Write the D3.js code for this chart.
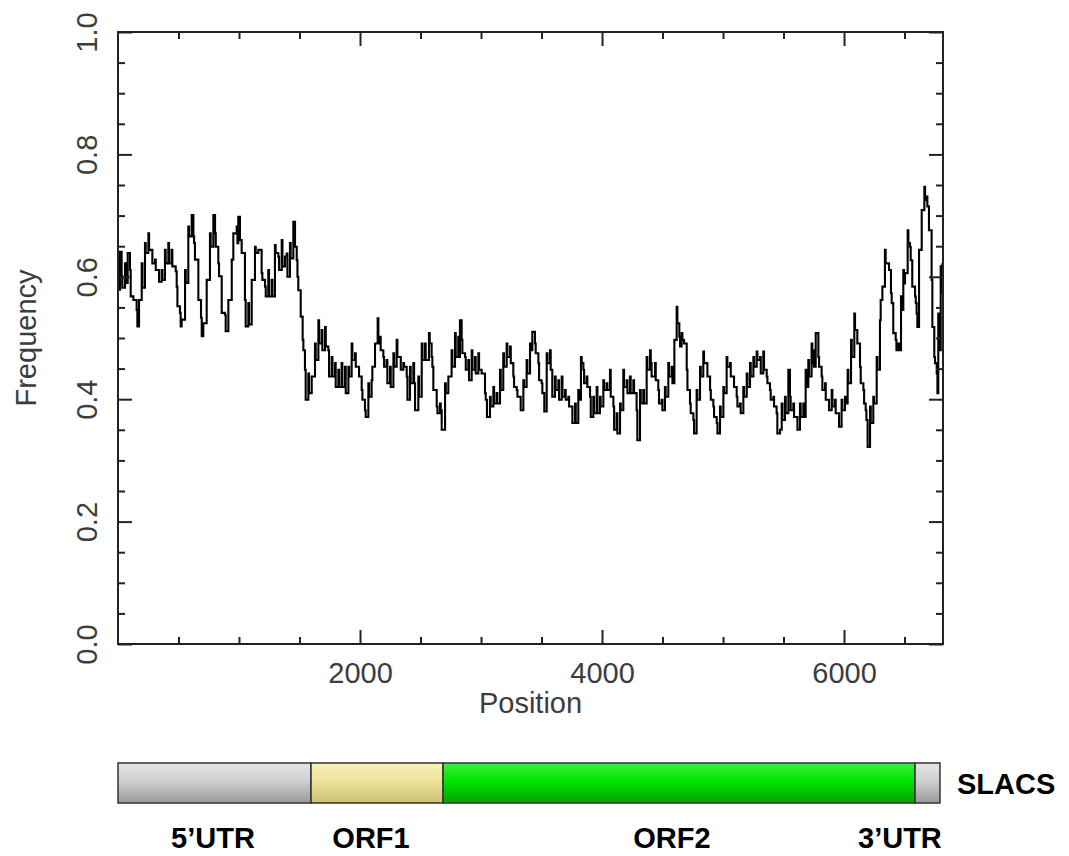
<!DOCTYPE html>
<html>
<head>
<meta charset="utf-8">
<script src="https://cdn.jsdelivr.net/npm/d3@7"></script>
<style>
  html, body { margin: 0; padding: 0; background: #fff; }
  svg { display: block; }
</style>
</head>
<body>
<svg id="chart" width="1069" height="856"></svg>
<script>
// ---------------- data ----------------
const positions = [
  1,8,17,30,36,58,64,80,99,105,127,154,160,174,196,202,223,229,251,257,
  278,284,306,312,333,339,361,367,388,394,416,422,443,449,471,477,485,491,512,518,
  526,554,560,581,587,609,623,629,636,664,686,692,705,733,760,766,788,802,808,829,
  835,857,884,890,912,940,953,981,987,994,1008,1022,1049,1055,1077,1083,1105,1132,1138,1160,
  1187,1193,1215,1221,1242,1248,1270,1276,1297,1303,1325,1331,1353,1359,1380,
  1394,1400,1421,1427,1449,1463,1477,1483,1490,1510,1526,1532,1545,1551,1573,1579,1601,1628,1634,1656,
  1662,1683,1689,1711,1717,1738,1744,1766,1772,1793,1799,1821,1827,1848,1854,1876,1882,1904,1910,1931,
  1937,1959,1965,1986,1992,2014,2020,2041,2047,2069,2075,2096,2102,2124,2146,2152,2165,2171,2193,2199,
  2220,2226,2248,2254,2276,2282,2303,2309,2331,2337,2358,2364,2386,2392,2413,2419,2441,2447,2455,2482,
  2488,2510,2516,2537,2543,2570,2576,2592,2598,2606,2634,2640,2661,2667,2675,2703,2709,2730,
  2757,2763,2785,2791,2812,2818,2826,2840,2846,2868,2874,2895,2901,2923,2929,2950,2956,2978,2984,3005,
  3033,3039,3049,3074,3080,3102,3108,3129,3135,3157,3163,3184,3190,3212,3218,3240,3246,3267,3273,3295,
  3301,3322,3328,3350,3356,3377,3383,3405,3411,3424,3446,3452,3474,3480,3501,3507,3523,3543,3549,3570,
  3576,3589,3611,3617,3639,3645,3667,3673,3694,3700,3722,3728,3749,3755,3777,3783,3804,3810,3826,3832,
  3846,3852,3873,3879,3901,3907,3928,3934,3956,3962,3983,3989,4011,4017,4038,4044,4066,4072,4094,4100,
  4121,4127,4149,4155,4176,4182,4204,4210,4231,4237,4259,4265,4286,4292,4314,4320,4341,4347,4369,4375,
  4397,4403,4410,4438,4444,4465,4471,4493,4499,4520,4526,4548,4554,4576,4582,4598,4617,4623,4639,4645,
  4658,4664,4678,4700,4706,4727,4733,4755,4761,4782,4788,4810,4816,4837,4843,4865,4871,4893,4899,4920,
  4926,4948,4954,4975,4981,5003,5009,5030,5036,5058,5064,5085,5091,5113,5119,5140,5146,5168,5174,5196,
  5202,5223,5229,5251,5257,5278,5284,5306,5312,5333,5339,5361,5367,5388,5394,5416,5422,5443,5449,5471,
  5485,5491,5512,5518,5540,5553,5559,5581,5587,5609,5615,5636,5642,5664,5670,5683,5689,5705,5711,5732,
  5738,5746,5752,5766,5788,5794,5815,5821,5843,5849,5870,5876,5898,5904,5925,5931,5953,5959,5980,5986,
  6008,6014,6030,6036,6058,6064,6085,6091,6104,6110,6132,6138,6160,6166,6179,6185,6195,6215,6221,6242,
  6248,6270,6276,6297,6303,6317,6338,6344,6366,6372,6388,6394,6407,6427,6433,6449,6455,6471,6477,6490,
  6496,6504,6526,6532,6545,6551,6564,6587,6593,6600,6606,6620,6642,6664,6670,6683,6689,6702,6724,6730,
  6746,6752,6766,6772,6779,6785,6799,6805,6812
];
const frequency = [
  .640,.579,.641,.601,.582,.622,.590,.639,.611,.568,.562,.546,.519,.562,.622,.582,.655,.639,.671,.644,
  .644,.622,.628,.611,.611,.592,.611,.595,.644,.622,.655,.622,.644,.617,.617,.609,.584,.552,.541,.519,
  .530,.611,.590,.682,.666,.701,.666,.655,.628,.562,.533,.503,.524,.595,.671,.649,.701,.671,.649,.622,
  .601,.541,.538,.511,.562,.628,.671,.682,.655,.698,.660,.639,.562,.519,.557,.522,.595,.649,.639,.644,
  .606,.595,.584,.568,.611,.568,.595,.568,.652,.639,.633,.611,.660,.617,.633,
  .638,.600,.655,.630,.690,.649,.627,.600,.578,.535,.497,.480,.448,.399,.442,.410,.437,.491,.464,.529,
  .491,.513,.480,.518,.486,.480,.437,.469,.437,.459,.420,.448,.420,.459,.420,.453,.410,.453,.437,.491,
  .464,.475,.453,.453,.437,.415,.399,.382,.371,.426,.404,.431,.453,.491,.532,.491,.502,.480,.469,.453,
  .464,.426,.453,.420,.475,.453,.497,.469,.469,.448,.459,.453,.437,.399,.453,.426,.459,.426,.382,.437,
  .404,.491,.464,.491,.464,.508,.491,.469,.453,.415,.388,.377,.393,.382,.350,.426,.410,.437,
  .480,.453,.508,.469,.502,.469,.529,.497,.475,.469,.448,.464,.431,.480,.448,.469,.442,.475,.448,.442,
  .410,.399,.371,.404,.388,.420,.393,.410,.393,.448,.415,.475,.453,.491,.469,.486,.459,.437,.420,.415,
  .404,.404,.382,.431,.420,.464,.442,.491,.480,.510,.491,.475,.459,.431,.426,.410,.380,.475,.459,.480,
  .448,.404,.437,.415,.431,.399,.437,.404,.415,.399,.404,.388,.388,.361,.393,.361,.415,.399,.469,.459,
  .448,.426,.437,.420,.404,.371,.404,.377,.420,.377,.404,.388,.431,.415,.426,.415,.448,.404,.388,.350,
  .377,.344,.393,.382,.448,.420,.431,.410,.437,.410,.431,.410,.382,.333,.415,.393,.415,.393,.469,.448,
  .480,.459,.437,.459,.431,.415,.393,.399,.382,.420,.404,.459,.437,.453,.426,.497,.551,.524,.502,.486,
  .508,.497,.491,.448,.415,.393,.377,.366,.344,.415,.399,.453,.437,.478,.459,.459,.437,.415,.399,.388,
  .371,.361,.344,.388,.371,.420,.410,.469,.453,.459,.437,.437,.420,.404,.388,.393,.377,.420,.404,.442,
  .420,.459,.437,.469,.453,.478,.464,.469,.442,.478,.448,.437,.426,.415,.399,.404,.388,.377,.344,.350,
  .393,.366,.404,.377,.448,.404,.382,.393,.371,.371,.350,.393,.371,.393,.371,.448,.420,.464,.437,.491,
  .459,.480,.453,.508,.469,.453,.437,.415,.426,.399,.399,.382,.415,.388,.399,.377,.377,.355,.399,.382,
  .404,.393,.448,.426,.497,.469,.540,.513,.513,.491,.453,.426,.415,.393,.382,.366,.322,.388,.361,.404,
  .393,.469,.448,.529,.562,.584,.644,.622,.622,.611,.573,.557,.508,.497,.480,.491,.480,.568,.546,.611,
  .589,.606,.676,.655,.649,.627,.584,.568,.557,.540,.518,.644,.709,.747,.725,.731,.715,.676,.595,.518,
  .469,.459,.442,.410,.540,.480,.617,.573,.622
];

const xDomain = [0, 6818];
const yDomain = [0, 1];
const xMajorTicks = [2000, 4000, 6000];
const xMinorTicks = [500, 1000, 1500, 2500, 3000, 3500, 4500, 5000, 5500, 6500];
const yMajorTicks = [0, 0.2, 0.4, 0.6, 0.8, 1.0];
const yMinorTicks = [0.05,0.1,0.15,0.25,0.3,0.35,0.45,0.5,0.55,0.65,0.7,0.75,0.85,0.9,0.95];
const xLabel = "Position";
const yLabel = "Frequency";

const regionNames  = ["5’UTR", "ORF1", "ORF2", "3’UTR"];
const regionStart  = [0, 1595, 2686, 6587];
const regionEnd    = [1595, 2686, 6587, 6793];
const regionLabelAt = [785, 2091, 4578, 6462];
const constructName = "SLACS";

// ---------------- drawing ----------------
if (positions.length !== frequency.length) throw new Error("length mismatch " + positions.length + " " + frequency.length);

const svg = d3.select("#chart");
const L = 118, R = 943, T = 32, B = 644;
const x = d3.scaleLinear().domain(xDomain).range([L, R]);
const y = d3.scaleLinear().domain(yDomain).range([B, T]);

const tickFont = "'Liberation Sans', Arial, sans-serif";
function axisText(sel, size) {
  sel.attr("font-family", tickFont).attr("font-size", size)
     .attr("fill", "#3c3c3c").attr("stroke", "none");
}

// data line
const pts = positions.map((p, i) => [p, frequency[i]]);
const line = d3.line().x(d => x(d[0])).y(d => y(d[1])).curve(d3.curveStepAfter);
svg.append("path").datum(pts)
  .attr("d", line).attr("fill", "none").attr("stroke", "#000")
  .attr("stroke-width", 2.1).attr("stroke-linejoin", "miter");

// axes (ticks inward)
function styleAxis(g) {
  g.select(".domain").remove();
  g.selectAll(".tick line").attr("stroke", "#222").attr("stroke-width", 2);
}
svg.append("g").attr("transform", `translate(0,${B})`)
  .call(d3.axisBottom(x).tickValues(xMinorTicks).tickSize(-7).tickFormat("")).call(styleAxis);
const xb = svg.append("g").attr("transform", `translate(0,${B})`)
  .call(d3.axisBottom(x).tickValues(xMajorTicks).tickSize(-14).tickPadding(18).tickFormat(d3.format("d"))).call(styleAxis);
xb.selectAll("text").call(axisText, 29);

svg.append("g").attr("transform", `translate(0,${T})`)
  .call(d3.axisTop(x).tickValues(xMinorTicks).tickSize(-7).tickFormat("")).call(styleAxis);
svg.append("g").attr("transform", `translate(0,${T})`)
  .call(d3.axisTop(x).tickValues(xMajorTicks).tickSize(-14).tickFormat("")).call(styleAxis);

svg.append("g").attr("transform", `translate(${L},0)`)
  .call(d3.axisLeft(y).tickValues(yMinorTicks).tickSize(-7).tickFormat("")).call(styleAxis);
const yl = svg.append("g").attr("transform", `translate(${L},0)`)
  .call(d3.axisLeft(y).tickValues(yMajorTicks).tickSize(-14).tickFormat(d3.format(".1f"))).call(styleAxis);
yl.selectAll("text")
  .attr("x", null).attr("dy", null)
  .attr("text-anchor", "middle").attr("dominant-baseline", "central")
  .attr("transform", "translate(-31,0) rotate(-90)")
  .call(axisText, 29);

svg.append("g").attr("transform", `translate(${R},0)`)
  .call(d3.axisRight(y).tickValues(yMinorTicks).tickSize(-7).tickFormat("")).call(styleAxis);
svg.append("g").attr("transform", `translate(${R},0)`)
  .call(d3.axisRight(y).tickValues(yMajorTicks).tickSize(-14).tickFormat("")).call(styleAxis);

// frame
svg.append("rect").attr("x", L).attr("y", T).attr("width", R - L).attr("height", B - T)
  .attr("fill", "none").attr("stroke", "#222").attr("stroke-width", 2);

// axis titles
svg.append("text").attr("x", (L + R) / 2).attr("y", 713).attr("text-anchor", "middle")
  .text(xLabel).call(axisText, 29);
svg.append("text").attr("transform", `translate(36,${(T + B) / 2}) rotate(-90)`)
  .attr("text-anchor", "middle").text(yLabel).call(axisText, 29);

// genome map bar
const defs = svg.append("defs");
const grads = [
  {id: "gGray",   c: ["#e4e4e4", "#cfcfcf", "#9a9a9a"]},
  {id: "gYellow", c: ["#f7f2b8", "#ece39a", "#c9c070"]},
  {id: "gGreen",  c: ["#3df03d", "#00e400", "#00a400"]}
];
grads.forEach(g => {
  const lg = defs.append("linearGradient").attr("id", g.id).attr("x1", 0).attr("y1", 0).attr("x2", 0).attr("y2", 1);
  lg.append("stop").attr("offset", "0%").attr("stop-color", g.c[0]);
  lg.append("stop").attr("offset", "45%").attr("stop-color", g.c[1]);
  lg.append("stop").attr("offset", "100%").attr("stop-color", g.c[2]);
});
const regionFill = ["url(#gGray)", "url(#gYellow)", "url(#gGreen)", "url(#gGray)"];
const barTop = 763, barH = 40;
svg.append("g").selectAll("rect").data(regionNames).join("rect")
  .attr("x", (d, i) => x(regionStart[i]))
  .attr("width", (d, i) => x(regionEnd[i]) - x(regionStart[i]))
  .attr("y", barTop).attr("height", barH)
  .attr("fill", (d, i) => regionFill[i])
  .attr("stroke", "#333").attr("stroke-width", 1.5);

svg.append("g").selectAll("text").data(regionNames).join("text")
  .attr("x", (d, i) => x(regionLabelAt[i]))
  .attr("y", 848).attr("text-anchor", "middle")
  .attr("font-family", "'Liberation Sans', Arial, sans-serif").attr("font-weight", "bold")
  .attr("font-size", 29).attr("fill", "#000")
  .text(d => d);

svg.append("text").attr("x", 957).attr("y", 794)
  .attr("font-family", "'Liberation Sans', Arial, sans-serif").attr("font-weight", "bold")
  .attr("font-size", 29).attr("fill", "#000").text(constructName);
</script>
</body>
</html>
